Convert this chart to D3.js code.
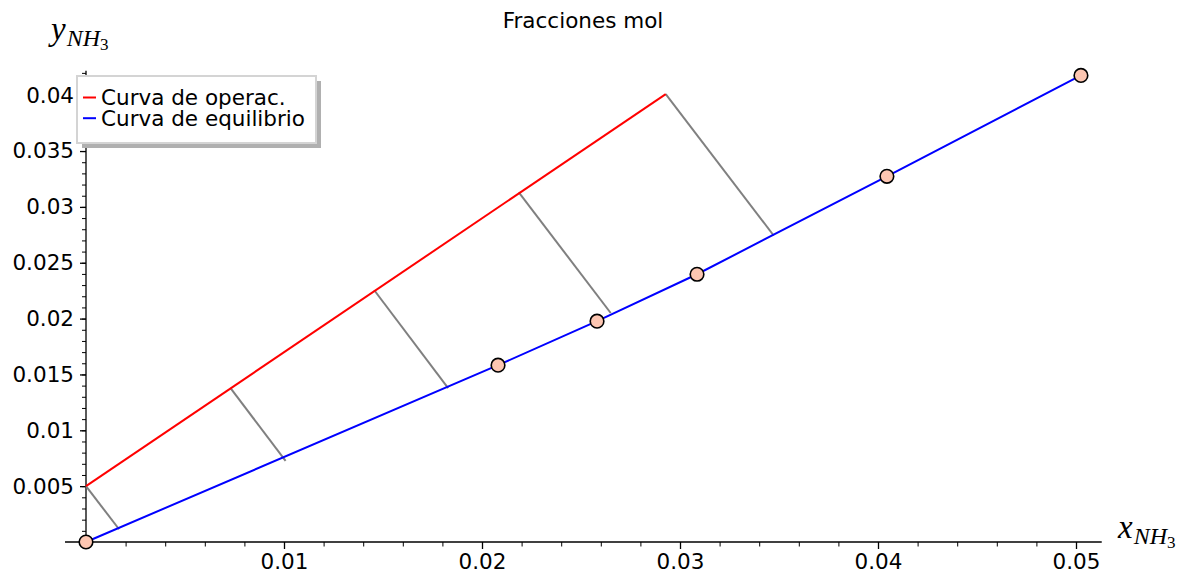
<!DOCTYPE html>
<html>
<head>
<meta charset="utf-8">
<script src="https://cdn.jsdelivr.net/npm/d3@7"></script>
<style>
  body { margin: 0; background: #fff; }
  svg { display: block; font-family: "DejaVu Sans", sans-serif; }
</style>
</head>
<body>
<div id="chart"></div>
<script>
// Datos
const xTicks = [0.01, 0.02, 0.03, 0.04, 0.05];
const yTicks = [0.005, 0.01, 0.015, 0.02, 0.025, 0.03, 0.035, 0.04];
const xMinorTicks = d3.range(0.002, 0.0511, 0.002);
const yMinorTicks = d3.range(0.001, 0.0421, 0.001);

// Curva de operación (recta)
const operX = [0, 0.02928];
const operY = [0.005, 0.0401];

// Curva de equilibrio (puntos experimentales)
const eqX = [0, 0.02081, 0.02581, 0.03086, 0.04045, 0.05025];
const eqY = [0, 0.01583, 0.01977, 0.02397, 0.03274, 0.04177];

// Escalones (línea de operación -> equilibrio)
const stepX1 = [0, 0.00730, 0.01456, 0.02186, 0.02928];
const stepY1 = [0.005, 0.01377, 0.02254, 0.03130, 0.0401];
const stepX2 = [0.00167, 0.01008, 0.01829, 0.02650, 0.03473];
const stepY2 = [0.00114, 0.00727, 0.01377, 0.02050, 0.02744];

const W = 1198, H = 582;
const FONT = "21.5px";

const svg = d3.select("#chart").append("svg")
    .attr("width", W)
    .attr("height", H);

// Escalas
const x = d3.scaleLinear().domain([0, 0.05]).range([86, 1076]);
const y = d3.scaleLinear().domain([0, 0.04]).range([542, 95.2]);

// Título
svg.append("text")
    .attr("x", 583)
    .attr("y", 28)
    .attr("text-anchor", "middle")
    .style("font-size", FONT)
    .text("Fracciones mol");

// Ejes: línea base
svg.append("line")
    .attr("x1", x(-0.00106)).attr("x2", x(0.0513))
    .attr("y1", y(0)).attr("y2", y(0))
    .attr("stroke", "#000").attr("stroke-width", 1.3);
svg.append("line")
    .attr("x1", x(0)).attr("x2", x(0))
    .attr("y1", y(0)).attr("y2", y(0.0422))
    .attr("stroke", "#000").attr("stroke-width", 1.3);

// Marcas menores
svg.append("g")
    .attr("transform", `translate(0,${y(0)})`)
    .call(d3.axisBottom(x).tickValues(xMinorTicks).tickSize(4.5).tickFormat(""))
    .call(g => g.select(".domain").remove())
    .call(g => g.selectAll("line").attr("stroke-width", 1));
svg.append("g")
    .attr("transform", `translate(${x(0)},0)`)
    .call(d3.axisLeft(y).tickValues(yMinorTicks).tickSize(4).tickFormat(""))
    .call(g => g.select(".domain").remove())
    .call(g => g.selectAll("line").attr("stroke-width", 1));

// Marcas mayores con etiquetas
svg.append("g")
    .attr("transform", `translate(0,${y(0)})`)
    .call(d3.axisBottom(x).tickValues(xTicks).tickSize(7).tickPadding(5).tickFormat(d3.format("")))
    .call(g => g.select(".domain").remove())
    .call(g => g.selectAll("line").attr("stroke-width", 1.3))
    .call(g => g.selectAll("text")
        .attr("fill", "#000")
        .style("font-size", FONT)
        .style("font-family", "DejaVu Sans, sans-serif"));
svg.append("g")
    .attr("transform", `translate(${x(0)},0)`)
    .call(d3.axisLeft(y).tickValues(yTicks).tickSize(6).tickPadding(6).tickFormat(d3.format("")))
    .call(g => g.select(".domain").remove())
    .call(g => g.selectAll("line").attr("stroke-width", 1.3))
    .call(g => g.selectAll("text")
        .attr("fill", "#000")
        .style("font-size", FONT)
        .style("font-family", "DejaVu Sans, sans-serif"));

// Etiquetas de ejes (estilo matemático)
function mathLabel(sel, main, px, py) {
    const t = sel.append("text")
        .attr("x", px).attr("y", py)
        .style("font-family", "'Liberation Serif', 'DejaVu Serif', serif")
        .style("font-style", "italic");
    t.append("tspan").style("font-size", "33px").text(main);
    t.append("tspan").attr("dx", 1).attr("dy", 6).style("font-size", "24px").text("NH");
    t.append("tspan").attr("dy", 4).style("font-size", "17px").style("font-style", "normal").text("3");
}
mathLabel(svg, "y", 51, 40);
mathLabel(svg, "x", 1118, 538);

// Escalones
const steps = stepX1.map((d, i) => ({ x1: d, y1: stepY1[i], x2: stepX2[i], y2: stepY2[i] }));
svg.append("g").selectAll("line")
    .data(steps)
    .enter()
    .append("line")
    .attr("x1", d => x(d.x1)).attr("y1", d => y(d.y1))
    .attr("x2", d => x(d.x2)).attr("y2", d => y(d.y2))
    .attr("stroke", "#808080")
    .attr("stroke-width", 2);

// Curvas
const line = d3.line().x(d => x(d[0])).y(d => y(d[1]));
svg.append("path")
    .datum(operX.map((d, i) => [d, operY[i]]))
    .attr("d", line)
    .attr("fill", "none")
    .attr("stroke", "#ff0000")
    .attr("stroke-width", 2);
const eqData = eqX.map((d, i) => [d, eqY[i]]);
svg.append("path")
    .datum(eqData)
    .attr("d", line)
    .attr("fill", "none")
    .attr("stroke", "#0000ff")
    .attr("stroke-width", 2);

// Puntos de equilibrio
svg.append("g").selectAll("circle")
    .data(eqData)
    .enter()
    .append("circle")
    .attr("cx", d => x(d[0]))
    .attr("cy", d => y(d[1]))
    .attr("r", 6.8)
    .attr("fill", "#fdc6b2")
    .attr("stroke", "#000")
    .attr("stroke-width", 1.6);

// Leyenda
const legend = svg.append("g").attr("transform", "translate(77,76)");
legend.append("rect")
    .attr("x", 5).attr("y", 5)
    .attr("width", 239).attr("height", 67)
    .attr("fill", "#b0b0b0");
legend.append("rect")
    .attr("width", 239).attr("height", 67)
    .attr("fill", "#fff")
    .attr("stroke", "#d4d4d4")
    .attr("stroke-width", 2);
const legendItems = [
    { label: "Curva de operac.", color: "#ff0000" },
    { label: "Curva de equilibrio", color: "#0000ff" }
];
legendItems.forEach((d, i) => {
    const yy = 21.5 + i * 20.7;
    legend.append("line")
        .attr("x1", 6).attr("x2", 19)
        .attr("y1", yy).attr("y2", yy)
        .attr("stroke", d.color)
        .attr("stroke-width", 2);
    legend.append("text")
        .attr("x", 24)
        .attr("y", yy + 7.5)
        .style("font-size", FONT)
        .text(d.label);
});
</script>
</body>
</html>
